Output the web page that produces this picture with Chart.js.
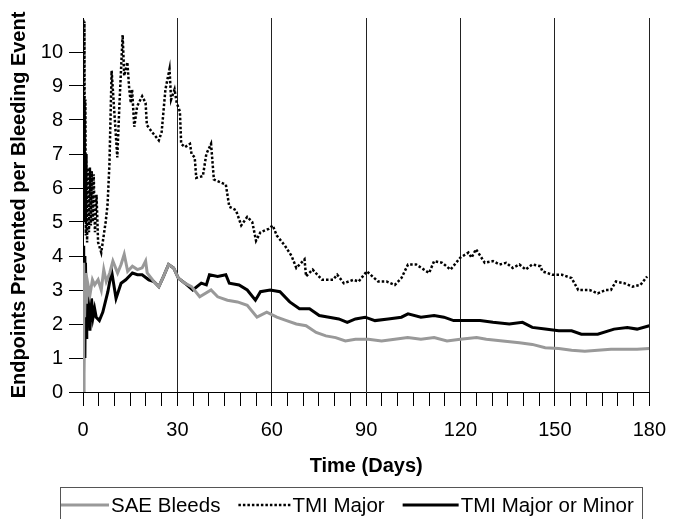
<!DOCTYPE html>
<html><head><meta charset="utf-8">
<script src="https://cdn.jsdelivr.net/npm/chart.js@4/dist/chart.umd.min.js"></script>
<style>html,body{margin:0;padding:0;background:#fff;}canvas{display:block;}</style>
</head><body>
<canvas id="c" width="678" height="519"></canvas>
<script>
// ---- data ----
const xTickLabels = [0, 30, 60, 90, 120, 150, 180];
const yTickLabels = [0, 1, 2, 3, 4, 5, 6, 7, 8, 9, 10];
const seriesNames = ['SAE Bleeds', 'TMI Major', 'TMI Major or Minor'];

const saeDays = [0,0.2,0.5,0.8,1.1,1.5,2.2,3.0,3.7,4.8,5.8,6.6,7.4,8.5,9.5,11.0,12.1,13.1,14.2,15.7,17.3,18.8,19.9,20.4,22.5,24.1,25.6,27.2,28.8,30.3,32.4,34.5,37.1,40.7,42.8,45.9,49.1,52.2,55.3,58.4,61.6,64.7,67.8,70.9,74.1,77.2,80.3,83.4,86.6,90.7,94.9,99.1,103.2,107.4,111.6,115.7,119.9,125.1,128.2,133.4,138.7,142.8,146.9,151.2,155.3,159.5,163.6,167.8,172.0,176.1,180];
const saeValues = [0,3.8,2.2,3.5,2.6,3.2,2.85,3.3,3.15,3.3,3.0,3.6,3.25,3.5,3.85,3.5,3.75,4.05,3.55,3.7,3.6,3.65,3.85,3.5,3.25,3.1,3.4,3.75,3.65,3.35,3.2,3.1,2.8,3.0,2.8,2.7,2.65,2.55,2.2,2.35,2.2,2.1,2.0,1.95,1.75,1.65,1.6,1.5,1.55,1.55,1.5,1.55,1.6,1.55,1.6,1.5,1.55,1.6,1.55,1.5,1.45,1.4,1.3,1.28,1.23,1.2,1.23,1.26,1.26,1.26,1.28];

const tmiMajorDays = [0.1,0.3,0.45,0.6,0.75,0.9,1.1,1.3,1.6,1.9,2.2,2.5,2.8,3.1,3.4,3.8,4.3,4.8,5.8,7.2,7.8,8.4,9.1,10.9,11.6,12.6,13.1,14.1,14.7,15.2,15.6,16.3,17.2,18.8,19.9,20.3,21.9,24.1,25.0,26.2,27.5,28.0,29.1,29.8,30.8,31.2,32.4,34.0,34.5,35.5,36.0,38.1,39.2,40.7,41.6,45.4,46.5,48.6,50.3,52.2,53.8,55.0,56.4,59.0,60.3,61.6,64.2,66.3,67.8,70.4,70.9,73.0,76.0,79.5,80.8,82.9,86.0,87.6,90.2,93.8,96.5,99.1,101.2,103.3,105.9,110.0,111.6,114.2,116.8,119.9,122.5,123.5,124.9,127.7,130.3,132.4,134.5,136.6,138.7,140.7,142.8,145.4,146.0,149.1,152.2,155.3,157.4,161.0,163.6,166.2,167.8,169.4,172.0,174.6,177.2,179.3];
const tmiMajorValues = [10.95,6.0,10.9,5.0,8.6,4.6,7.0,4.4,6.6,4.7,6.6,4.9,6.5,5.0,6.4,4.7,5.8,4.4,4.1,5.0,5.5,6.7,9.45,6.9,8.5,10.5,9.3,9.7,8.9,8.5,8.9,7.8,8.4,8.7,8.5,7.85,7.65,7.4,7.65,8.9,9.5,8.6,8.9,8.5,8.25,7.3,7.2,7.3,7.0,6.9,6.3,6.35,7.0,7.3,6.25,6.1,5.45,5.35,4.9,5.15,5.0,4.45,4.7,4.8,4.9,4.6,4.3,4.0,3.65,3.9,3.4,3.6,3.3,3.3,3.45,3.2,3.3,3.25,3.55,3.25,3.25,3.15,3.35,3.75,3.75,3.5,3.85,3.8,3.6,3.95,4.1,3.95,4.2,3.8,3.85,3.75,3.8,3.65,3.75,3.6,3.75,3.7,3.55,3.45,3.45,3.35,3.0,3.0,2.9,3.0,3.0,3.25,3.2,3.1,3.15,3.4];

const tmiAnyDays = [0,0.15,0.3,0.45,0.6,0.8,1.0,1.2,1.5,1.8,2.2,2.7,3.2,3.7,4.2,5.2,6.3,7.9,9.1,10.5,12.1,13.6,15.7,17.3,18.8,20.9,22.5,24.1,25.6,27.2,28.8,30.3,32.4,34.9,37.6,39.2,40.2,42.8,45.4,46.5,49.6,52.2,54.8,56.4,59.5,62.6,65.7,68.8,72.0,75.1,78.2,81.3,84.0,86.6,89.7,92.8,97.0,101.2,103.3,107.4,111.6,114.7,117.8,122.0,126.2,130.3,135.5,139.7,142.8,146.9,151.2,155.3,158.4,163.6,168.8,173.0,176.1,180];
const tmiAnyValues = [0,4.3,0.5,4.0,1.0,3.8,1.6,3.2,2.0,2.8,1.8,2.75,2.2,2.45,2.2,2.1,2.35,2.95,3.55,2.75,3.2,3.3,3.5,3.45,3.45,3.3,3.25,3.1,3.4,3.75,3.65,3.35,3.2,3.0,3.2,3.15,3.45,3.4,3.45,3.2,3.15,3.0,2.7,2.95,3.0,2.95,2.65,2.45,2.45,2.25,2.2,2.15,2.05,2.15,2.2,2.1,2.15,2.2,2.3,2.2,2.25,2.2,2.1,2.1,2.1,2.05,2.0,2.05,1.9,1.85,1.8,1.8,1.7,1.7,1.85,1.9,1.85,1.95];

// ---- build ----
const pts = (xs, ys) => xs.map((x, i) => ({x: x, y: ys[i]}));
const FONT = '"Liberation Sans", Arial, Helvetica, sans-serif';

const datasets = [
  {label: seriesNames[0], data: pts(saeDays, saeValues), borderColor: '#999999', borderWidth: 3},
  {label: seriesNames[2], data: pts(tmiAnyDays, tmiAnyValues), borderColor: '#000000', borderWidth: 3},
  {label: seriesNames[1], data: pts(tmiMajorDays, tmiMajorValues), borderColor: '#000000', borderWidth: 2.5, borderDash: [2.5, 2]}
];
// legend reads: SAE Bleeds, TMI Major, TMI Major or Minor
const legendOrder = [0, 2, 1];

const boxLegend = {
  id: 'boxLegend',
  afterDraw(chart) {
    const o = chart.options.plugins.boxLegend;
    const ctx = chart.ctx;
    ctx.save();
    ctx.strokeStyle = '#555';
    ctx.lineWidth = 1;
    ctx.strokeRect(o.left + 0.5, o.top + 0.5, o.width, 60);
    ctx.font = o.fontSize + 'px ' + FONT;
    ctx.textBaseline = 'middle';
    ctx.fillStyle = '#000';
    let x = o.left + 1;
    const y = o.top + o.rowOffset;
    legendOrder.map(i => chart.data.datasets[i]).forEach((ds, i) => {
      const len = o.sampleLengths[i];
      ctx.beginPath();
      ctx.strokeStyle = ds.borderColor;
      ctx.lineWidth = ds.borderWidth;
      ctx.setLineDash(ds.borderDash || []);
      ctx.moveTo(x, y); ctx.lineTo(x + len, y); ctx.stroke();
      ctx.setLineDash([]);
      const tx = x + len + o.textGap;
      ctx.fillText(ds.label, tx, y + 1);
      x = tx + ctx.measureText(ds.label).width + o.itemGap;
    });
    ctx.restore();
  }
};

new Chart(document.getElementById('c'), {
  type: 'line',
  data: {datasets: datasets},
  options: {
    responsive: false,
    animation: false,
    events: [],
    layout: {padding: {top: 11, right: 19, bottom: 32, left: 0}},
    elements: {point: {radius: 0}, line: {tension: 0, fill: false, borderCapStyle: 'butt', borderJoinStyle: 'miter'}},
    plugins: {
      legend: {display: false},
      tooltip: {enabled: false},
      boxLegend: {left: 60, top: 487, width: 582, rowOffset: 18, fontSize: 20.5, sampleLengths: [48, 52, 56], textGap: 2, itemGap: 18}
    },
    scales: {
      x: {
        type: 'linear', min: 0, max: 180,
        afterFit(s) { s.height = 95; },
        border: {display: true, color: '#000', width: 1},
        grid: {
          drawOnChartArea: true, drawTicks: true, tickLength: 14,
          color: c => (c.tick && c.tick.value > 0 && c.tick.value % 30 === 0) ? '#222' : 'rgba(0,0,0,0)',
          tickColor: '#000', lineWidth: 1
        },
        ticks: {
          stepSize: 5, autoSkip: false, maxRotation: 0, padding: 12, color: '#000',
          font: {family: FONT, size: 20},
          callback: v => xTickLabels.includes(v) ? String(v) : ''
        },
        title: {display: true, text: 'Time (Days)', color: '#000', font: {family: FONT, size: 20, weight: 'bold'}, padding: {top: 0, bottom: 9}}
      },
      y: {
        type: 'linear', min: 0, max: 11,
        afterFit(s) { s.width = 83; },
        border: {display: true, color: '#000', width: 1},
        grid: {
          drawOnChartArea: false, drawTicks: true, tickLength: 14,
          color: 'rgba(0,0,0,0)',
          tickColor: c => (c.tick && c.tick.value <= 10) ? '#000' : 'rgba(0,0,0,0)'
        },
        ticks: {
          stepSize: 1, autoSkip: false, padding: 6, color: '#000',
          font: {family: FONT, size: 20},
          callback: v => yTickLabels.includes(v) ? String(v) : ''
        },
        title: {display: true, text: 'Endpoints Prevented per Bleeding Event', color: '#000', font: {family: FONT, size: 20, weight: 'bold'}, padding: {top: 7, bottom: 0}}
      }
    }
  },
  plugins: [boxLegend]
});
</script>
</body></html>
